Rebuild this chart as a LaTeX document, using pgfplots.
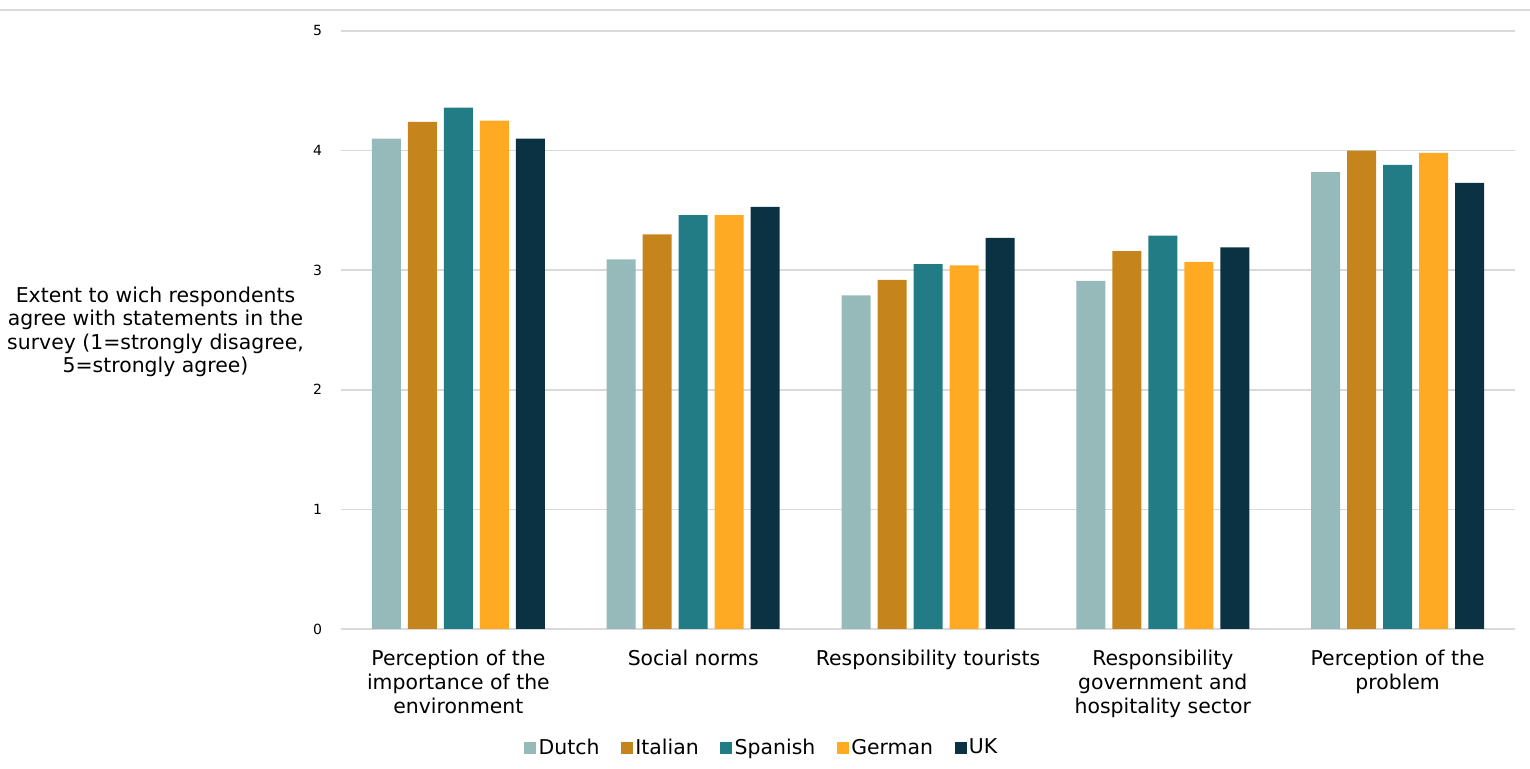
\documentclass[border=0pt]{standalone}
\usepackage{pgfplots}
\usepackage{pgfplotstable}
\pgfplotsset{compat=1.18}
\usepackage{fontspec}
\setmainfont{DejaVu Sans}

\definecolor{cDutch}{HTML}{95BAB9}
\definecolor{cItalian}{HTML}{C6851C}
\definecolor{cSpanish}{HTML}{227C85}
\definecolor{cGerman}{HTML}{FFAA22}
\definecolor{cUK}{HTML}{0A3243}
\definecolor{gridgray}{HTML}{D9D9D9}

% mean agreement per statement group and nationality
\pgfplotstableread{
x Dutch Italian Spanish German UK
0 4.10 4.24 4.36 4.25 4.10
1 3.09 3.30 3.46 3.46 3.53
2 2.79 2.92 3.05 3.04 3.27
3 2.91 3.16 3.29 3.07 3.19
4 3.82 4.00 3.88 3.98 3.73
}\survey

\begin{document}
\begin{tikzpicture}
\path[use as bounding box] (0,0) rectangle (765pt,384.5pt);
\draw[gridgray, line width=1pt] (0,379.7pt) -- (765pt,379.7pt);
\begin{axis}[
  at={(170.5pt,70pt)}, anchor=south west,
  scale only axis, width=587pt, height=299pt,
  ymin=0, ymax=5, ytick={0,1,2,3,4,5},
  xmin=-0.5, xmax=4.5, xtick=data,
  xticklabels={{Perception of the\\importance of the\\environment},
               {Social norms},
               {Responsibility tourists},
               {Responsibility\\government and\\hospitality sector},
               {Perception of the\\problem}},
  ybar=3.5pt, bar width=14.5pt,
  separate axis lines,
  axis x line*=bottom,
  x axis line style={gridgray, line width=0.75pt, -},
  axis y line*=left,
  y axis line style={draw=none},
  tick style={draw=none},
  ymajorgrids, major grid style={gridgray, line width=0.75pt},
  /pgf/number format/assume math mode=true,
  yticklabel style={font=\fontsize{7}{8}\selectfont, xshift=-6pt},
  xticklabel style={align=center, font=\fontsize{10.2}{12}\selectfont, yshift=-2.5pt},
  ylabel={Extent to wich respondents\\agree with statements in the\\survey (1=strongly disagree,\\5=strongly agree)},
  ylabel style={rotate=-90, align=center, at={(axis description cs:-0.158,0.497)},
                anchor=center, font=\fontsize{10.2}{11.8}\selectfont},
  legend columns=-1,
  legend style={at={(axis description cs:0.3586,-0.199)}, anchor=center, draw=none,
                font=\fontsize{10.2}{12}\selectfont,
                nodes={inner sep=1.2pt},
                /tikz/every even column/.append style={column sep=9.6pt}},
  legend image code/.code={\fill[#1] (0pt,-3pt) rectangle (6pt,3pt);},
]
\addplot[fill=cDutch, draw=none] table[x=x, y=Dutch] {\survey};
\addplot[fill=cItalian, draw=none] table[x=x, y=Italian] {\survey};
\addplot[fill=cSpanish, draw=none] table[x=x, y=Spanish] {\survey};
\addplot[fill=cGerman, draw=none] table[x=x, y=German] {\survey};
\addplot[fill=cUK, draw=none] table[x=x, y=UK] {\survey};
\legend{Dutch, Italian, Spanish, German, UK}
\end{axis}
\end{tikzpicture}
\end{document}
